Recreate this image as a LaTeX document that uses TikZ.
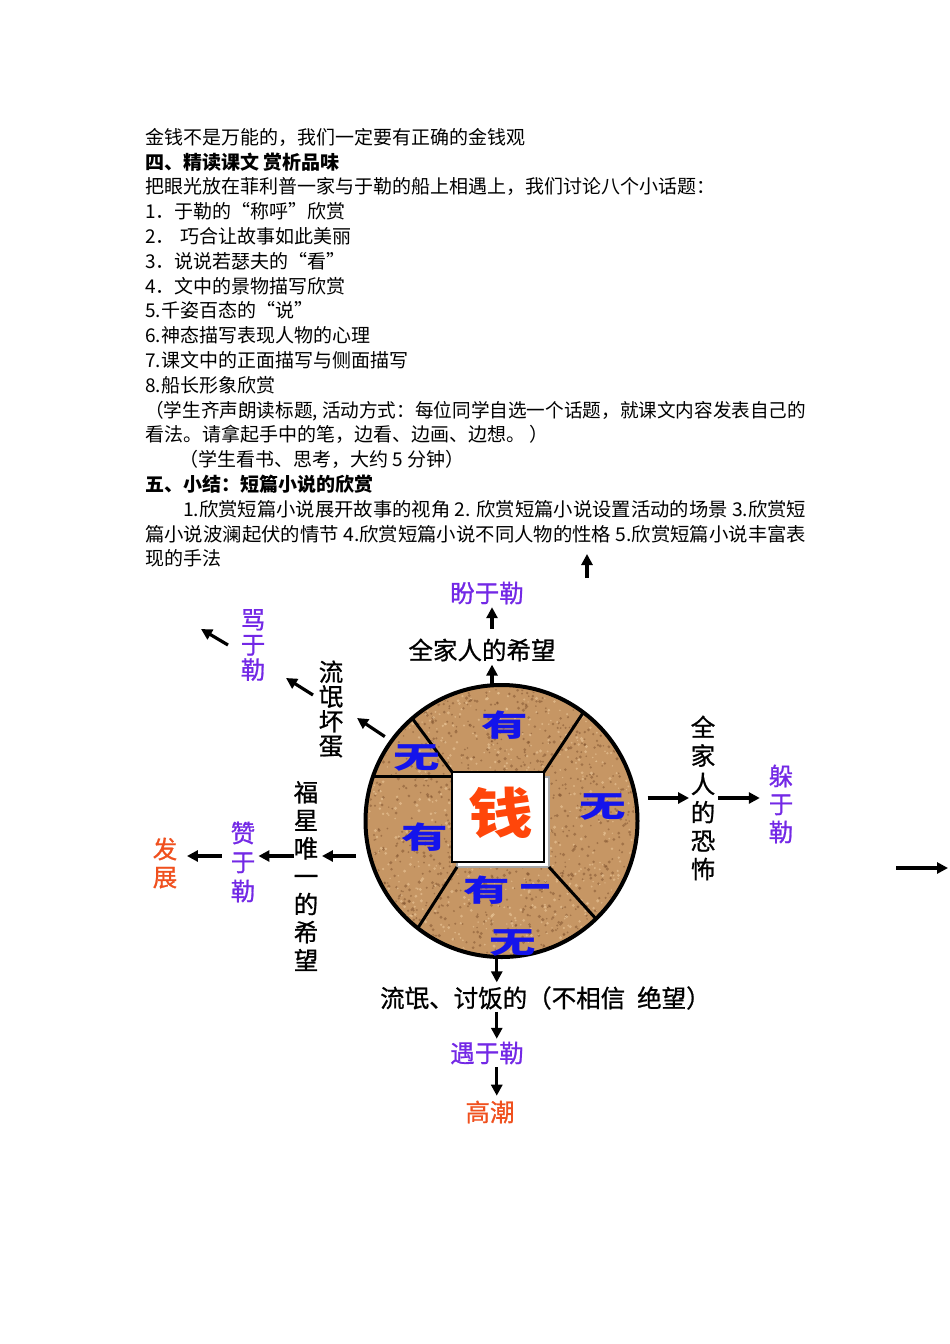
\documentclass[tikz,border=0pt]{standalone}
\usepackage{fontspec}
\setmainfont{Noto Sans CJK SC}
\newfontfamily\heifont[FakeBold=0.8]{Noto Sans CJK SC}
\usepackage{graphicx}
\usetikzlibrary{arrows.meta,calc}

\definecolor{cork}{RGB}{198,150,100}
\definecolor{corkdark}{RGB}{125,80,45}
\definecolor{corklight}{RGB}{232,196,150}
\definecolor{segblue}{RGB}{20,20,235}
\definecolor{qianred}{RGB}{255,70,10}
\definecolor{yuviolet}{RGB}{115,40,230}
\definecolor{tipred}{RGB}{240,80,30}

\newcommand\squat[2][1.55]{\scalebox{#1}[1]{#2}}

\tikzset{
  arr/.style={-{Triangle[length=11pt,width=11pt]}, line width=3.2pt},
  textline/.style={anchor=base west, inner sep=0pt, font=\fontsize{19}{24.8}\selectfont},
  lbl/.style={inner sep=0pt, align=center, font=\heifont\fontsize{24.5}{#1}\selectfont},
  lbl/.default=28,
  who/.style={lbl=#1, text=yuviolet},
  who/.default=28,
  coin/.style={circle, draw, fill=cork, line width=4pt, minimum size=272pt, inner sep=0pt, outer sep=0pt},
  card/.style={draw, fill=white, line width=1.2pt, minimum width=92pt, minimum height=90pt, inner sep=0pt, outer sep=0pt},
  divider/.style={line width=3pt},
  seg/.style={inner sep=0pt, text=segblue, font=\fontsize{30}{30}\selectfont\bfseries}
}

\begin{document}
\begin{tikzpicture}[x=1pt,y=-1pt]
\path[fill=white,use as bounding box] (0,0) rectangle (950,1344);

% lesson text
\foreach \txt [count=\i] in {
  {金钱不是万能的，我们一定要有正确的金钱观},
  {\textbf{四、精读课文 赏析品味}},
  {把眼光放在菲利普一家与于勒的船上相遇上，我们讨论八个小话题：},
  {1．于勒的“称呼”欣赏},
  {2．\hspace{6pt}巧合让故事如此美丽},
  {3．说说若瑟夫的“看”},
  {4．文中的景物描写欣赏},
  {5.千姿百态的“说”},
  {6.神态描写表现人物的心理},
  {7.课文中的正面描写与侧面描写},
  {8.船长形象欣赏},
  {\resizebox{661pt}{\height}{（学生齐声朗读标题, 活动方式：每位同学自选一个话题，就课文内容发表自己的}},
  {看法。请拿起手中的笔，边看、边画、边想。 ）},
  {\hspace*{1.8em}（学生看书、思考，大约 5 分钟）},
  {\textbf{五、小结：短篇小说的欣赏}},
  {\hspace*{2em}\resizebox{623pt}{\height}{1.欣赏短篇小说展开故事的视角 2. 欣赏短篇小说设置活动的场景 3.欣赏短}},
  {\resizebox{661pt}{\height}{篇小说波澜起伏的情节 4.欣赏短篇小说不同人物的性格 5.欣赏短篇小说丰富表}},
  {现的手法}}
  \node[textline] (t\i) at (145,{144.2+24.8*(\i-1)}) {\txt};

% the coin
\node[coin] (coin) at (501.5,821) {};
\begin{scope}
  \clip (coin.center) circle (133);
  \pgfmathsetseed{11}
  \foreach \k in {1,...,1100}
    \fill[corkdark, opacity=0.5] ($(coin.center)+(rand*133,rand*133)$) circle [radius={0.8+rnd}];
  \foreach \k in {1,...,700}
    \fill[corklight, opacity=0.65] ($(coin.center)+(rand*133,rand*133)$) circle [radius={0.7+rnd}];
\end{scope}

\node[card, draw=gray!70] (shade) at (503,822) {};
\node[card] (sq) at (498,817) {};
\draw[divider] (coin.131) -- (sq.north west);
\draw[divider] (coin.161) -- (coin.161 -| sq.west);
\draw[divider] (coin.53) -- (sq.north east);
\draw[divider] (coin.314) -- (shade.south east);
\draw[divider] (coin.232) -- (shade.south west);
\node[inner sep=0pt, text=qianred, font=\fontsize{54}{54}\selectfont\bfseries] (qian) at (501,813) {\squat[1.2]{钱}};

\node[seg] (you1) at (505,725) {\squat{有}};
\node[seg] (wu1)  at (417,758) {\squat{无}};
\node[seg] (wu2)  at (603,807) {\squat{无}};
\node[seg] (you2) at (425,837) {\squat{有}};
\node[seg] (you3) at (487,890) {\squat{有}};
\node[seg] (yi)   at (535,891) {一};
\node[seg] (wu3)  at (513,943) {\squat{无}};

% labels round the coin
\node[who] (pan) at (487,593) {盼于勒};
\node[lbl] (hope) at (482,650) {全家人的希望};
\node[lbl=24.7] (rogue) at (331,709) {流\\氓\\坏\\蛋};
\node[who=25] (scold) at (253,645) {骂\\于\\勒};
\node[lbl=28.4] (fear) at (703,798) {全\\家\\人\\的\\恐\\怖};
\node[who] (hide) at (781,804) {躲\\于\\勒};
\node[lbl] (star) at (306,876) {福\\星\\唯\\一\\的\\希\\望};
\node[who=29] (praise) at (243,862) {赞\\于\\勒};
\node[lbl, text=tipred] (grow) at (165,863) {发\\展};
\node[lbl, anchor=west] (poor) at (380,998) {流氓、讨饭的（不相信\hspace{12pt}绝望）};
\node[who] (meet) at (487,1053) {遇于勒};
\node[lbl, text=tipred] (climax) at (490,1112) {高潮};

\coordinate (ra) at (357,718);
\coordinate (rb1) at (313,695);
\coordinate (rb2) at (286,678);
\coordinate (rc1) at (228,645);
\coordinate (rc2) at (201,629);
\coordinate (lrow) at (356,856);
\coordinate (up1) at (587,578);
\coordinate (up2) at (587,554);
\coordinate (far1) at (896,868);
\coordinate (far2) at (948,868);

% arrows
\draw[arr, shorten >=3pt] (coin.94) -- (coin.94 |- hope.south);
\draw[arr, shorten <=9.75pt, shorten >=2.75pt] (coin.94 |- hope.north) -- (coin.94 |- pan.south);
\draw[arr, shorten <=8pt] (coin.144) -- (ra);
\draw[arr] (rb1) -- (rb2);
\draw[arr] (rc1) -- (rc2);
\draw[arr, shorten <=10pt, shorten >=1.5pt] (fear.west -| coin.east) -- (fear.west);
\draw[arr, shorten <=3pt, shorten >=8.75pt] (fear.east) -- (fear.east -| hide.west);
\draw[arr, shorten >=3.5pt] (lrow) -- (lrow -| star.east);
\draw[arr, shorten >=3pt] (lrow -| star.west) -- (lrow -| praise.east);
\draw[arr, shorten <=9pt, shorten >=9.5pt] (lrow -| praise.west) -- (lrow -| grow.east);
\draw[arr, shorten >=3.75pt] (coin.268) -- (coin.268 |- poor.north);
\draw[arr, shorten <=2pt, shorten >=2.75pt] (coin.268 |- poor.south) -- (coin.268 |- meet.north);
\draw[arr, shorten <=2.75pt, shorten >=4.75pt] (coin.268 |- meet.south) -- (coin.268 |- climax.north);
\draw[arr] (up1) -- (up2);
\draw[arr] (far1) -- (far2);
\end{tikzpicture}
\end{document}
